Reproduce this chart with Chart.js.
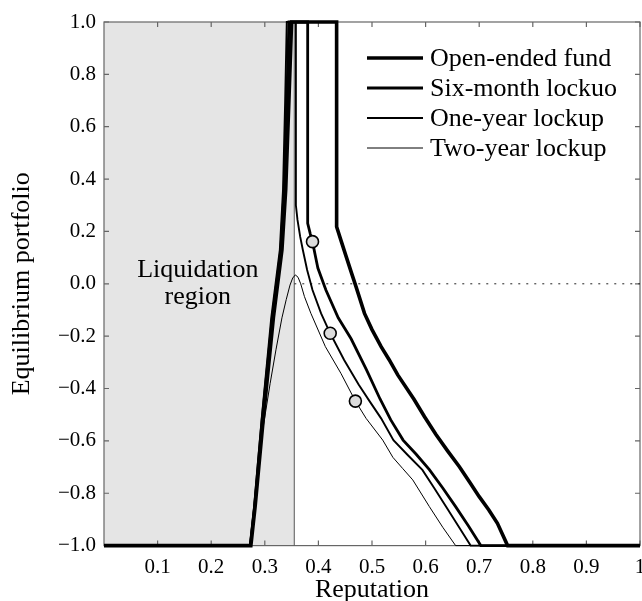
<!DOCTYPE html>
<html>
<head>
<meta charset="utf-8">
<script src="https://cdn.jsdelivr.net/npm/chart.js@4.4.1/dist/chart.umd.min.js"></script>
<style>
html, body { margin: 0; padding: 0; background: #fff; }
</style>
</head>
<body>
<canvas id="chart" width="642" height="601"></canvas>
<script>
// Series: [reputation, equilibrium portfolio]
const openEnded = [[0,-1],[0.274,-1],[0.282,-0.85],[0.297,-0.52],[0.316,-0.13],[0.332,0.13],[0.339,0.36],[0.345,0.70],[0.350,1],
  [0.434,1],[0.434,0.218],[0.443,0.16],[0.452,0.103],[0.462,0.04],[0.470,-0.01],[0.486,-0.113],[0.500,-0.175],[0.517,-0.24],
  [0.532,-0.29],[0.548,-0.348],[0.578,-0.44],[0.598,-0.508],[0.619,-0.575],[0.641,-0.638],[0.663,-0.699],[0.682,-0.757],
  [0.700,-0.813],[0.718,-0.864],[0.734,-0.915],[0.753,-1],[1,-1]];
const sixMonth = [[0,-1],[0.273,-1],[0.281,-0.85],[0.295,-0.52],[0.314,-0.13],[0.330,0.13],[0.336,0.36],[0.341,0.70],[0.345,1],
  [0.380,1],[0.380,0.231],[0.385,0.19],[0.389,0.161],[0.394,0.11],[0.399,0.06],[0.414,-0.024],[0.437,-0.13],[0.461,-0.21],
  [0.490,-0.33],[0.515,-0.44],[0.535,-0.52],[0.558,-0.597],[0.582,-0.65],[0.607,-0.71],[0.632,-0.78],[0.656,-0.851],
  [0.680,-0.925],[0.703,-1],[1,-1]];
const oneYear = [[0,-1],[0.272,-1],[0.280,-0.85],[0.294,-0.52],[0.312,-0.13],[0.328,0.13],[0.334,0.36],[0.338,0.70],[0.341,1],
  [0.358,1],[0.358,0.30],[0.361,0.244],[0.366,0.18],[0.371,0.129],[0.379,0.053],[0.389,-0.024],[0.405,-0.113],[0.422,-0.189],
  [0.448,-0.291],[0.475,-0.385],[0.496,-0.45],[0.517,-0.514],[0.540,-0.597],[0.567,-0.655],[0.594,-0.711],[0.616,-0.78],
  [0.638,-0.851],[0.661,-0.925],[0.684,-1],[1,-1]];
const twoYear = [[0,-1],[0.272,-1],[0.281,-0.85],[0.296,-0.56],[0.310,-0.38],[0.321,-0.25],[0.332,-0.13],[0.340,-0.06],
  [0.347,-0.005],[0.352,0.022],[0.357,0.034],[0.362,0.025],[0.367,0.0],[0.374,-0.049],[0.386,-0.113],[0.413,-0.24],
  [0.442,-0.342],[0.469,-0.448],[0.489,-0.514],[0.520,-0.597],[0.539,-0.663],[0.557,-0.705],[0.576,-0.749],[0.607,-0.851],
  [0.632,-0.93],[0.656,-1],[1,-1]];
const seriesNames = ['Open-ended fund', 'Six-month lockuo', 'One-year lockup', 'Two-year lockup'];

// Circles on six-month, one-year and two-year curves
const markerPoints = [[0.389,0.161],[0.422,-0.189],[0.469,-0.448]];

// Liquidation region spans reputation 0 .. liquidationEdge
const liquidationEdge = 0.355;
const regionLabel = ['Liquidation', 'region'];

// Ticks
const xTickVals = [0.1,0.2,0.3,0.4,0.5,0.6,0.7,0.8,0.9,1];
const xTickLabels = ['0.1','0.2','0.3','0.4','0.5','0.6','0.7','0.8','0.9','1'];
const yTickVals = [1,0.8,0.6,0.4,0.2,0,-0.2,-0.4,-0.6,-0.8,-1];
const yTickLabels = ['1.0','0.8','0.6','0.4','0.2','0.0','\u22120.2','\u22120.4','\u22120.6','\u22120.8','\u22121.0'];

const toXY = arr => arr.map(p => ({ x: p[0], y: p[1] }));
const serif = 'Liberation Serif';
const lineWidths = [3.6, 2.8, 1.9, 1.0];

// frame + inward ticks, drawn right after the grey region
const framePlugin = {
    id: 'frame',
    afterDatasetDraw(chart, args) {
        if (args.index !== 0) return;
        const { ctx, chartArea: a, scales: { x, y } } = chart;
        ctx.save();
        ctx.strokeStyle = '#666';
        ctx.lineWidth = 1.2;
        ctx.strokeRect(a.left, a.top, a.right - a.left, a.bottom - a.top);
        ctx.beginPath();
        xTickVals.forEach(v => {
            const px = x.getPixelForValue(v);
            ctx.moveTo(px, a.bottom); ctx.lineTo(px, a.bottom - 5);
            ctx.moveTo(px, a.top); ctx.lineTo(px, a.top + 5);
        });
        yTickVals.forEach(v => {
            const py = y.getPixelForValue(v);
            ctx.moveTo(a.left, py); ctx.lineTo(a.left + 5, py);
            ctx.moveTo(a.right, py); ctx.lineTo(a.right - 5, py);
        });
        ctx.stroke();
        ctx.restore();
    }
};

// legend and region label
const textPlugin = {
    id: 'texts',
    afterDatasetsDraw(chart) {
        const { ctx, scales: { x, y } } = chart;
        ctx.save();
        ctx.fillStyle = '#000';
        ctx.font = '26px "' + serif + '"';
        ctx.textBaseline = 'middle';
        ctx.textAlign = 'center';
        const cx = x.getPixelForValue(0.175);
        ctx.fillText(regionLabel[0], cx, y.getPixelForValue(0.052));
        ctx.fillText(regionLabel[1], cx, y.getPixelForValue(-0.05));

        ctx.textAlign = 'left';
        seriesNames.forEach((name, i) => {
            const ry = 58 + i * 30;
            ctx.strokeStyle = '#000';
            ctx.lineWidth = lineWidths[i];
            ctx.beginPath();
            ctx.moveTo(367, ry); ctx.lineTo(423, ry);
            ctx.stroke();
            ctx.fillText(name, 430, ry + 1);
        });
        ctx.restore();
    }
};

const curves = [openEnded, sixMonth, oneYear, twoYear];
const datasets = [
    {
        // grey liquidation region, filled down to -1
        data: toXY([[0, 1], [liquidationEdge, 1]]),
        showLine: true, fill: 'start', backgroundColor: '#e5e5e5',
        borderWidth: 0, pointRadius: 0, order: 10
    },
    {
        data: toXY([[liquidationEdge, -1], [liquidationEdge, 1]]),
        showLine: true, borderColor: '#555', borderWidth: 1, pointRadius: 0, order: 9
    },
    {
        data: toXY([[liquidationEdge, 0], [1, 0]]),
        showLine: true, borderColor: '#222', borderWidth: 1, borderDash: [2, 6],
        pointRadius: 0, order: 8
    }
];
curves.forEach((c, i) => {
    datasets.push({
        label: seriesNames[i],
        data: toXY(c),
        showLine: true,
        borderColor: '#000',
        borderWidth: lineWidths[i],
        borderJoinStyle: 'miter',
        pointRadius: 0,
        tension: 0,
        order: 1 + i
    });
});
datasets.push({
    data: toXY(markerPoints),
    showLine: false,
    pointRadius: 6,
    pointBackgroundColor: '#dcdcdc',
    pointBorderColor: '#000',
    pointBorderWidth: 1.6,
    order: 0
});

new Chart(document.getElementById('chart'), {
    type: 'scatter',
    data: { datasets: datasets },
    options: {
        responsive: false,
        animation: false,
        clip: false,
        layout: { autoPadding: false, padding: { top: 22, right: 2, left: 0, bottom: 0 } },
        plugins: { legend: { display: false }, tooltip: { enabled: false } },
        scales: {
            x: {
                type: 'linear', min: 0, max: 1,
                grid: { display: false, drawTicks: false },
                border: { display: false },
                afterBuildTicks: s => { s.ticks = xTickVals.map(v => ({ value: v })); },
                afterFit: s => { s.height = 55.4; s.paddingLeft = 0; s.paddingRight = 0; },
                ticks: {
                    autoSkip: false, maxRotation: 0, padding: 9, color: '#000',
                    font: { family: serif, size: 21 },
                    callback: (v, i) => xTickLabels[i]
                },
                title: {
                    display: true, text: 'Reputation', color: '#000',
                    font: { family: serif, size: 26, lineHeight: 0.8 },
                    padding: { top: 0, bottom: 0 }
                }
            },
            y: {
                type: 'linear', min: -1, max: 1,
                grid: { display: false, drawTicks: false },
                border: { display: false },
                afterBuildTicks: s => { s.ticks = yTickVals.map(v => ({ value: v })); },
                afterFit: s => { s.width = 104; s.paddingTop = 0; s.paddingBottom = 0; },
                ticks: {
                    autoSkip: false, padding: 8, color: '#000',
                    font: { family: serif, size: 21 },
                    callback: (v, i) => yTickLabels[i]
                },
                title: {
                    display: true, text: 'Equilibrium portfolio', color: '#000',
                    font: { family: serif, size: 26, lineHeight: 1 },
                    padding: { top: 9, bottom: 0 }
                }
            }
        }
    },
    plugins: [framePlugin, textPlugin]
});
</script>
</body>
</html>
